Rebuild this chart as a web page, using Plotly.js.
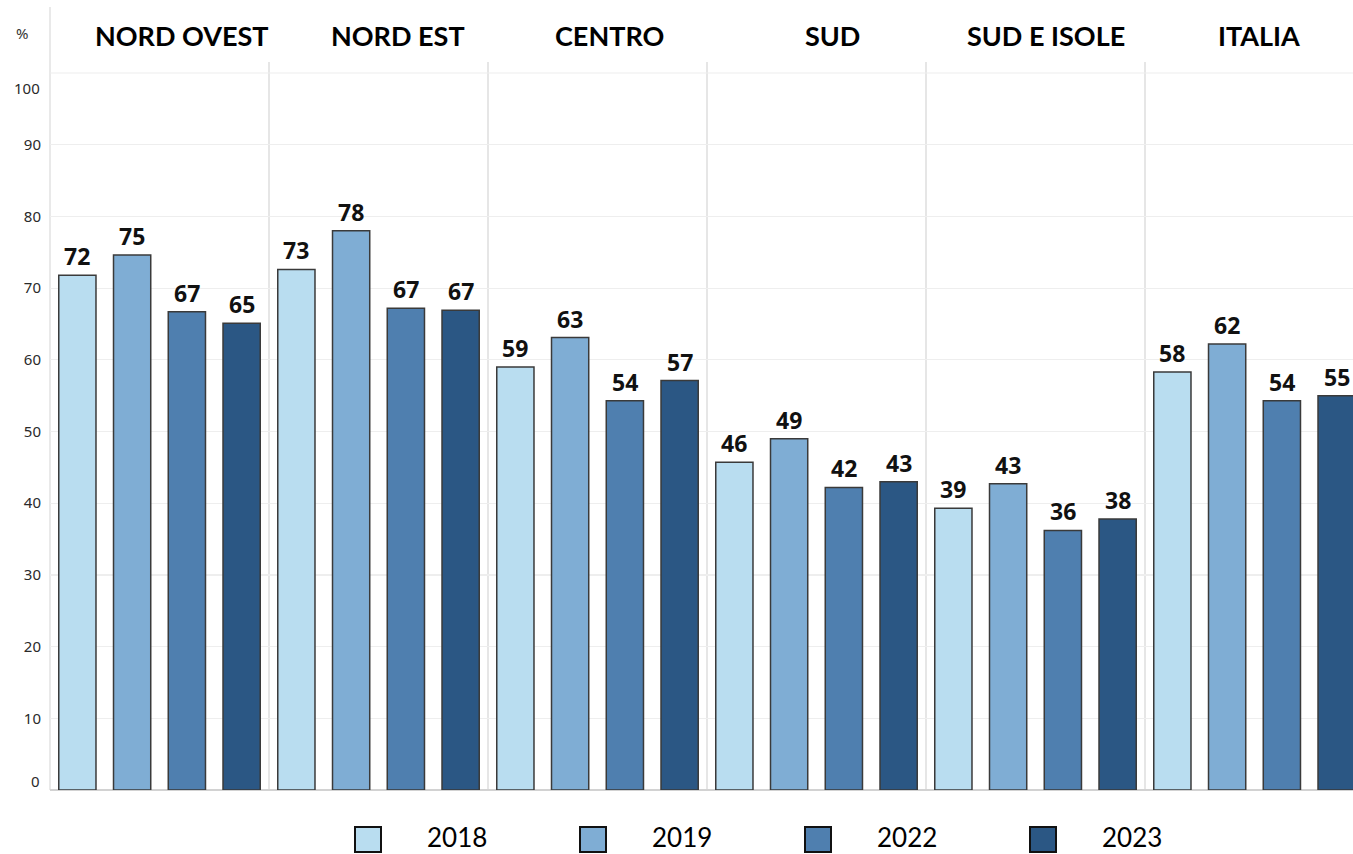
<!DOCTYPE html>
<html>
<head>
<meta charset="utf-8">
<script src="https://cdn.plot.ly/plotly-3.0.1.min.js"></script>
<style>html,body{margin:0;padding:0;background:#fff;overflow:hidden}#chart{width:1353px;height:854px}</style>
</head>
<body>
<div id="chart"></div>
<script>
// ---- data ----
const categories = ["NORD OVEST", "NORD EST", "CENTRO", "SUD", "SUD E ISOLE", "ITALIA"];
const years = ["2018", "2019", "2022", "2023"];
const v2018 = [71.8, 72.6, 59.0, 45.7, 39.3, 58.3];
const v2019 = [74.6, 78.0, 63.1, 49.0, 42.7, 62.2];
const v2022 = [66.7, 67.2, 54.3, 42.2, 36.2, 54.3];
const v2023 = [65.1, 66.9, 57.1, 43.0, 37.8, 55.0];
const yTicks = [0, 10, 20, 30, 40, 50, 60, 70, 80, 90, 100];

// ---- style ----
const colors = ["#b9ddf0", "#7fadd4", "#4f7faf", "#2b5784"];
const series = [v2018, v2019, v2022, v2023];
const headerShift = [22, 19, 12, 16, 10, 4]; // px nudges of header labels

const W = 1353, H = 854, L = 50, T = 60, B = 790;
const plotW = W - L, plotH = B - T;
const pxPerUnit = 7.17;
const bargroupgap = 0.32;
const nSeries = series.length;
const slot = 1 / nSeries;
const xIdx = categories.map((c, i) => i);

const traces = series.map((vals, k) => ({
  type: "bar",
  name: years[k],
  x: xIdx,
  y: vals,
  marker: {color: colors[k], line: {color: "#3a3a3a", width: 1.5}},
  showlegend: false,
  hoverinfo: "skip"
}));

const shapes = [];
const annotations = [];

// value labels, placed on each bar's top through the axes
series.forEach((vals, k) => {
  vals.forEach((v, i) => {
    annotations.push({text: "<b>" + Math.round(v) + "</b>", xref: "x", yref: "y",
      x: i + (k - (nSeries - 1) / 2) * slot, y: v, yanchor: "bottom", xanchor: "center", yshift: 1,
      showarrow: false, font: {family: "Noto Sans, sans-serif", size: 23, color: "#111"}});
  });
});

// vertical separators between groups
for (let i = 1; i < categories.length; i++) {
  shapes.push({type: "line", xref: "x", yref: "paper", x0: i - 0.5, x1: i - 0.5, y0: 0, y1: (B - 62) / plotH,
    line: {color: "#d6d6d6", width: 1.2}, layer: "below"});
}
// left frame line
shapes.push({type: "line", xref: "paper", yref: "paper", x0: 0, x1: 0, y0: 0, y1: (B - 7) / plotH,
  line: {color: "#dadada", width: 1.2}, layer: "below"});
// gridline at 100 (not in tickvals)
shapes.push({type: "line", xref: "paper", yref: "y", x0: 0, x1: 1, y0: 100, y1: 100,
  line: {color: "#eeeeee", width: 1.2}, layer: "below"});

// headers
categories.forEach((c, i) => {
  annotations.push({text: "<b>" + c + "</b>", xref: "x", yref: "paper", x: i, y: (B - 35) / plotH,
    xshift: headerShift[i], xanchor: "center", yanchor: "middle", showarrow: false,
    font: {family: "Lato, sans-serif", size: 27, color: "#000"}});
});
annotations.push({text: "%", xref: "paper", yref: "paper", x: (22 - L) / plotW, y: (B - 33) / plotH,
  xanchor: "center", yanchor: "middle", showarrow: false,
  font: {family: "Noto Sans, sans-serif", size: 15, color: "#333"}});

// end tick labels (0 and 100), nudged inside like the reference
[[yTicks[0], 9], [yTicks[yTicks.length - 1], -15]].forEach(([v, s]) => {
  annotations.push({text: String(v), xref: "paper", yref: "y", x: 0, y: v, xshift: -8, yshift: s,
    xanchor: "right", yanchor: "middle", showarrow: false,
    font: {family: "Noto Sans, sans-serif", size: 15, color: "#2a2a2a"}});
});

// legend
const legX = [355, 580, 805, 1030];
years.forEach((yr, k) => {
  const x0 = legX[k];
  shapes.push({type: "rect", xref: "paper", yref: "paper",
    x0: (x0 - L) / plotW, x1: (x0 + 26 - L) / plotW,
    y0: (B - 852) / plotH, y1: (B - 827) / plotH,
    fillcolor: colors[k], line: {color: "#111", width: 2}});
  annotations.push({text: yr, xref: "paper", yref: "paper", x: (x0 + 70 - L) / plotW, y: (B - 837) / plotH,
    xanchor: "left", yanchor: "middle", showarrow: false,
    font: {family: "Lato, sans-serif", size: 26, color: "#000"}});
});

const layout = {
  width: W, height: H,
  margin: {l: L, r: 0, t: T, b: H - B, pad: 0},
  paper_bgcolor: "#fff", plot_bgcolor: "#fff",
  barmode: "group", bargap: 0, bargroupgap: bargroupgap,
  xaxis: {range: [-0.5, -0.5 + plotW / 219], showticklabels: false, showgrid: false, zeroline: false,
    showline: false, ticks: "", fixedrange: true},
  yaxis: {range: [0, plotH / pxPerUnit], tickvals: yTicks.slice(1, -1), ticktext: yTicks.slice(1, -1).map(String),
    showgrid: true, gridcolor: "#eeeeee", gridwidth: 1.2, zeroline: true, zerolinecolor: "#d2d2d2", zerolinewidth: 1.5,
    showline: false, ticks: "", ticklabelstandoff: 8,
    tickfont: {family: "Noto Sans, sans-serif", size: 15, color: "#2a2a2a"}, fixedrange: true},
  shapes: shapes,
  annotations: annotations,
  showlegend: false
};

Plotly.newPlot("chart", traces, layout, {displayModeBar: false, staticPlot: true});
</script>
</body>
</html>
